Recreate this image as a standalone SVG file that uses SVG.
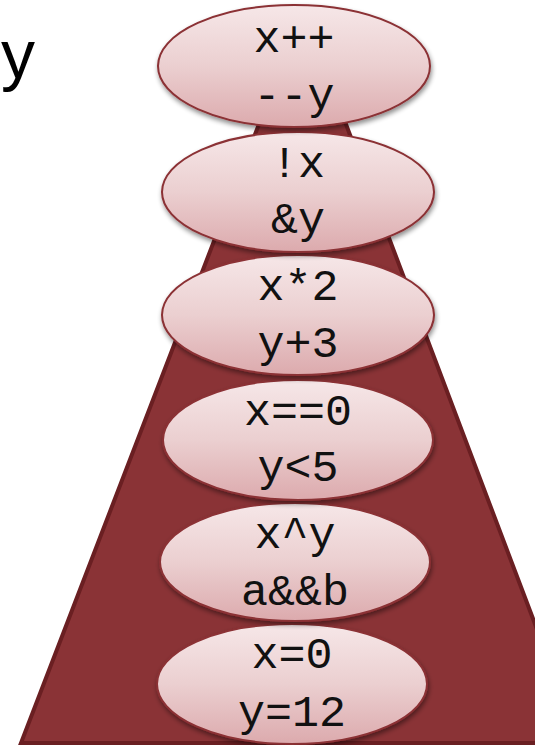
<svg xmlns="http://www.w3.org/2000/svg" width="535" height="745" viewBox="0 0 535 745">
<defs>
<linearGradient id="pill" x1="0" y1="0" x2="0" y2="1">
<stop offset="0" stop-color="#f6e7e8"/>
<stop offset="0.5" stop-color="#ebcfd0"/>
<stop offset="1" stop-color="#dcaaad"/>
</linearGradient>
<filter id="sh" x="-10%" y="-10%" width="125%" height="130%">
<feGaussianBlur in="SourceAlpha" stdDeviation="2.5"/>
<feOffset dx="1" dy="3" result="b"/>
<feComponentTransfer><feFuncA type="linear" slope="0.45"/></feComponentTransfer>
<feMerge><feMergeNode/><feMergeNode in="SourceGraphic"/></feMerge>
</filter>
</defs>
<style>
.node ellipse{fill:url(#pill);stroke:#8b3034;stroke-width:2;filter:url(#sh)}
.node text{font-family:"Liberation Mono","Courier New",monospace;font-size:45px;fill:#111;text-anchor:middle}
.base{fill:#8a3336;stroke:#6a1f22;stroke-width:4;stroke-linejoin:miter}
</style>
<rect width="535" height="745" fill="#ffffff"/>
<text x="1" y="78" font-family="Liberation Sans, Arial, sans-serif" font-size="68" fill="#000">y</text>
<g id="base">
<polygon class="base" points="262.5,115 342.5,115 580,743 21,743"/>
</g>
<g id="connectors"></g>
<g id="n6" class="node"><ellipse cx="292" cy="684" rx="135" ry="60"/><text x="292" y="668">x=0</text><text x="292" y="726">y=12</text></g>
<g id="n5" class="node"><ellipse cx="295" cy="562" rx="135" ry="59"/><text x="295" y="548">x^y</text><text x="295" y="605">a&amp;&amp;b</text></g>
<g id="n4" class="node"><ellipse cx="298" cy="440" rx="135" ry="60"/><text x="298" y="425">x==0</text><text x="298" y="481">y&lt;5</text></g>
<g id="n3" class="node"><ellipse cx="298" cy="315" rx="136" ry="60"/><text x="298" y="300">x*2</text><text x="298" y="357">y+3</text></g>
<g id="n2" class="node"><ellipse cx="298" cy="192" rx="136" ry="60"/><text x="298" y="177">!x</text><text x="298" y="233">&amp;y</text></g>
<g id="n1" class="node"><ellipse cx="294" cy="66" rx="136" ry="61"/><text x="294" y="52">x++</text><text x="294" y="109">--y</text></g>
</svg>
